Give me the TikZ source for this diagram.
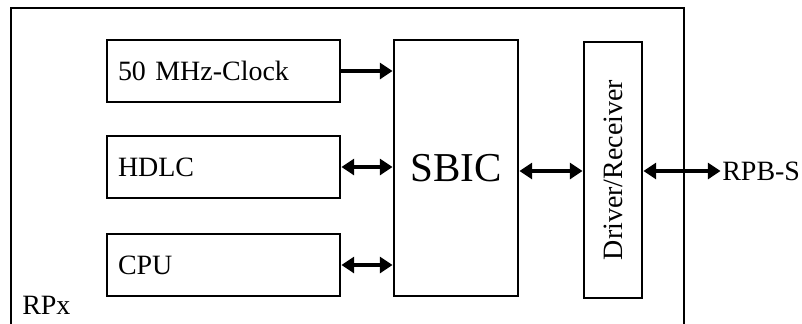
\documentclass[tikz,border=0pt]{standalone}
\usepackage{fontspec}
\setmainfont{Liberation Serif}
\usepackage{tikz}
\usetikzlibrary{arrows.meta,positioning}
\tikzset{
    >={Triangle[length=0.32cm,width=0.4cm]},
    unit/.style={rectangle, draw, line width=1.1pt, outer sep=0pt, minimum width=5.825cm, minimum height=1.55cm, text width=5.275cm, inner xsep=0.275cm, align=left, font=\fontsize{19.9}{24}\selectfont},
    core/.style={rectangle, draw, line width=1.1pt, outer sep=0pt, minimum width=3.1cm, minimum height=6.4cm, font=\fontsize{29.2}{34}\selectfont},
    xcvr/.style={rectangle, draw, line width=1.1pt, outer sep=0pt, minimum width=1.45cm, minimum height=6.4cm, font=\fontsize{19.9}{24}\selectfont},
    label/.style={inner sep=0pt, font=\fontsize{19.9}{24}\selectfont},
    bus/.style={line width=2.4pt, shorten >=1pt, shorten <=1pt}
}
\begin{document}
\begin{tikzpicture}
    \useasboundingbox (0,0) rectangle (20.05,-8.075);

    % board frame, cut off at the bottom
    \coordinate (fbl) at (0.275,-8.2);
    \coordinate (ftl) at (0.275,-0.2);
    \coordinate (ftr) at (17.1,-0.2);
    \coordinate (fbr) at (17.1,-8.2);
    \draw[line width=1.1pt] (fbl) -- (ftl) -- (ftr) -- (fbr);
    \node[label, anchor=base west] (rpx) at (0.55,-7.85) {RPx};

    \node[unit] (clock) at (5.5875,-1.775) {50 MHz-Clock};
    \node[unit] (hdlc) at (5.5875,-4.175) {HDLC};
    \node[unit] (cpu) at (5.5875,-6.625) {CPU};

    \node[core] (sbic) at (11.4,-4.2) {SBIC};
    \node[xcvr] (drv) at (15.325,-4.25) {\rotatebox{90}{Driver/Receiver}};
    \node[label, anchor=west] (rpbs) at (18.05,-4.275) {RPB-S};

    \draw[bus, ->] (clock.east) -- (clock.east -| sbic.west);
    \draw[bus, <->] (hdlc.east) -- (hdlc.east -| sbic.west);
    \draw[bus, <->] (cpu.east) -- (cpu.east -| sbic.west);
    \draw[bus, <->] (sbic.east |- rpbs) -- (drv.west |- rpbs);
    \draw[bus, <->] (drv.east |- rpbs) -- (rpbs.west);
\end{tikzpicture}
\end{document}
